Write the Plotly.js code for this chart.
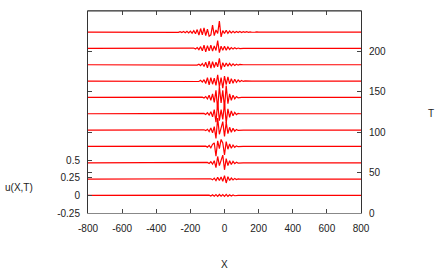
<!DOCTYPE html>
<html><head><meta charset="utf-8">
<script src="https://cdn.plot.ly/plotly-3.0.1.min.js"></script>
<style>html,body{margin:0;padding:0;background:#fff}#c{width:436px;height:272px}</style>
</head><body><div id="c"></div>
<script>
// X grid inside the wave-packet region (plus flat ends)
const xInner = [-300,-290,-280,-270,-260,-250,-240,-230,-220,-210,-200,-190,-180,-170,-160,-150,-140,-130,-120,-110,-100,-90,-80,-70,-60,-50,-40,-30,-20,-10,0,10,20,30,40,50,60,70,80,90,100,110,120,130,140,150,160,170,180,190,200];
const xEnds = [-800, 800];
// baseline offsets of each profile (in u units)
const offsets = [0, 0.233, 0.466, 0.699, 0.932, 1.165, 1.398, 1.631, 1.864, 2.097, 2.33];
// u(X,T) profiles, bottom (T≈20) to top (T≈220)
const u1 = [0,0,0,0,0,0,0,0,0,0,0,0,0,0,0,0,0,0,0,0,0,0.005,-0.008,0.01,-0.01,0.012,-0.012,0.014,-0.01,0.012,-0.014,0.015,-0.012,0.01,-0.008,0.006,-0.004,0.002,0,0,0,0,0,0,0,0,0,0,0,0,0];
const u2 = [0,0,0,0,0,0,0,0,0,0,0,0,0,0,0,0,0,0,0,0,0,0,0.005,-0.01,0.015,-0.02,0.025,-0.02,0.03,-0.03,0.05,-0.055,0.035,-0.02,0.015,-0.012,0.01,-0.006,0.003,0,0,0,0,0,0,0,0,0,0,0,0];
const u3 = [0,0,0,0,0,0,0,0,0,0,0,0,0,0,0,0,0,0,0,0,0.005,-0.01,0.015,-0.02,0.03,-0.07,0.09,-0.04,0.03,0.11,-0.1,0.06,-0.04,0.03,-0.025,0.02,-0.012,0.008,-0.004,0,0,0,0,0,0,0,0,0,0,0,0];
const u4 = [0,0,0,0,0,0,0,0,0,0,0,0,0,0,0,0,0,0,0,0.004,-0.01,0.015,-0.02,0.03,0.05,-0.14,0.08,-0.03,0.1,0.05,-0.12,0.07,-0.04,0.035,-0.025,0.02,-0.012,0.008,-0.004,0,0,0,0,0,0,0,0,0,0,0,0];
const u5 = [0,0,0,0,0,0,0,0,0,0,0,0,0,0,0,0,0,0,0.004,-0.008,0.012,-0.02,0.03,-0.04,0.05,-0.12,0.17,-0.06,0.05,0.12,-0.09,0.11,-0.05,0.04,-0.03,0.025,-0.015,0.01,-0.005,0,0,0,0,0,0,0,0,0,0,0,0];
const u6 = [0,0,0,0,0,0,0,0,0,0,0,0,0,0,0,0,0,0,0.005,-0.01,0.015,-0.02,0.03,-0.045,0.06,-0.12,0.16,-0.1,0.06,-0.08,0.15,-0.13,0.07,-0.05,0.04,-0.03,0.02,-0.012,0.006,0,0,0,0,0,0,0,0,0,0,0,0];
const u7 = [0,0,0,0,0,0,0,0,0,0,0,0,0,0,0,0,0,0.004,-0.008,0.012,-0.02,0.03,-0.04,0.05,-0.07,0.1,-0.17,0.16,-0.08,0.1,-0.15,0.17,-0.09,0.05,-0.04,0.03,-0.02,0.012,-0.006,0,0,0,0,0,0,0,0,0,0,0,0];
const u8 = [0,0,0,0,0,0,0,0,0,0,0,0,0,0,0.003,-0.006,0.01,-0.015,0.02,-0.035,0.05,-0.055,0.05,-0.045,0.04,-0.06,0.09,-0.08,0.05,-0.1,0.07,-0.05,0.06,-0.04,0.035,-0.03,0.025,-0.02,0.015,-0.01,0.008,-0.005,0.003,0,0,0,0,0,0,0,0];
const u9 = [0,0,0,0,0,0,0,0,0,0,0,0,0,0.003,-0.005,0.008,-0.012,0.018,-0.025,0.035,-0.045,0.05,-0.05,0.045,-0.04,0.035,-0.03,0.09,-0.07,0.03,-0.03,0.025,-0.02,0.02,-0.015,0.012,-0.01,0.008,-0.006,0.004,-0.003,0,0,0,0,0,0,0,0,0,0];
const u10 = [0,0,0,0,0,0,0,0,0,0,0.002,-0.003,0.005,-0.008,0.012,-0.018,0.025,-0.035,0.045,-0.05,0.04,-0.035,0.045,-0.04,0.035,-0.03,0.11,-0.06,0.03,-0.025,0.03,-0.025,0.02,-0.015,0.012,-0.01,0.008,-0.006,0.005,-0.003,0.002,0,0,0,0,0,0,0,0,0,0];
const u11 = [0.002,-0.003,0.004,-0.005,0.006,-0.007,0.008,-0.009,0.01,-0.012,0.014,-0.016,0.02,-0.025,0.035,-0.045,0.05,-0.04,0.06,-0.05,0.04,-0.06,-0.04,0.1,-0.05,0.03,-0.02,0.155,-0.07,0.02,-0.02,0.025,-0.02,0.015,-0.012,0.01,-0.01,0.009,-0.008,0.007,-0.006,0.005,-0.005,0.004,-0.004,0.003,-0.003,0.002,-0.002,0.001,0];
const profiles = [u1,u2,u3,u4,u5,u6,u7,u8,u9,u10,u11];
const xTicks = [-800,-600,-400,-200,0,200,400,600,800];
const xTickText = ['-800','-600','-400','-200','0','200','400','600','800'];
const uTicks = [-0.25,0,0.25,0.5];
const uTickText = ['-0.25','0','0.25','0.5'];
const tTicks = [0,50,100,150,200];

const traces = profiles.map((u,k) => {
  const xs = [xEnds[0]].concat(xInner, [xEnds[1]]);
  const ys = [0].concat(u, [0]).map(v => v + offsets[k]);
  return {x: xs, y: ys, type:'scatter', mode:'lines', line:{color:'#ff0000', width:1.2}, hoverinfo:'skip', showlegend:false};
});

const font = {family:'Liberation Sans, Arial, sans-serif', size:10, color:'#222'};
const layout = {
  width:436, height:272,
  margin:{l:88, r:75, t:11, b:59},
  paper_bgcolor:'#fff', plot_bgcolor:'#fff',
  font: font,
  showlegend:false,
  xaxis:{range:[-800,800], tickvals:xTicks, ticktext:xTickText, ticks:'inside', ticklen:4, tickcolor:'#444',
         showline:true, linecolor:'#888', linewidth:1, mirror:'ticks', showgrid:false, zeroline:false,
         ticklabelstandoff:6, tickfont:font},
  yaxis:{range:[-0.25,2.63], tickvals:uTicks, ticktext:uTickText, ticks:'inside', ticklen:4, tickcolor:'#444',
         showline:true, linecolor:'#888', linewidth:1, showgrid:false, zeroline:false,
         ticklabelstandoff:5, tickfont:font},
  yaxis2:{range:[0,250], tickvals:tTicks, overlaying:'y', side:'right', ticks:'inside', ticklen:4, tickcolor:'#444',
          showline:true, linecolor:'#333', linewidth:1, mirror:'ticks', showgrid:false, zeroline:false,
          ticklabelstandoff:5, tickfont:font},
  shapes:[{type:'line', xref:'paper', yref:'paper', x0:0, x1:1, y0:1, y1:1, line:{color:'#333', width:1}}],
  annotations:[
    {text:'X', xref:'paper', yref:'paper', x:0.5, y:-0.256, yanchor:'middle', xanchor:'center', showarrow:false, font:font, yshift:0},
    {text:'u(X,T)', xref:'paper', yref:'paper', x:-0.253, xanchor:'center', y:0.124, yanchor:'middle', showarrow:false, font:font},
    {text:'T', xref:'paper', yref:'paper', x:1.255, xanchor:'center', y:0.495, yanchor:'middle', showarrow:false, font:font}
  ]
};
traces.push({x:[0], y:[0], yaxis:'y2', type:'scatter', mode:'markers', marker:{opacity:0}, hoverinfo:'skip', showlegend:false});
Plotly.newPlot('c', traces, layout, {staticPlot:true, displayModeBar:false});
</script></body></html>
